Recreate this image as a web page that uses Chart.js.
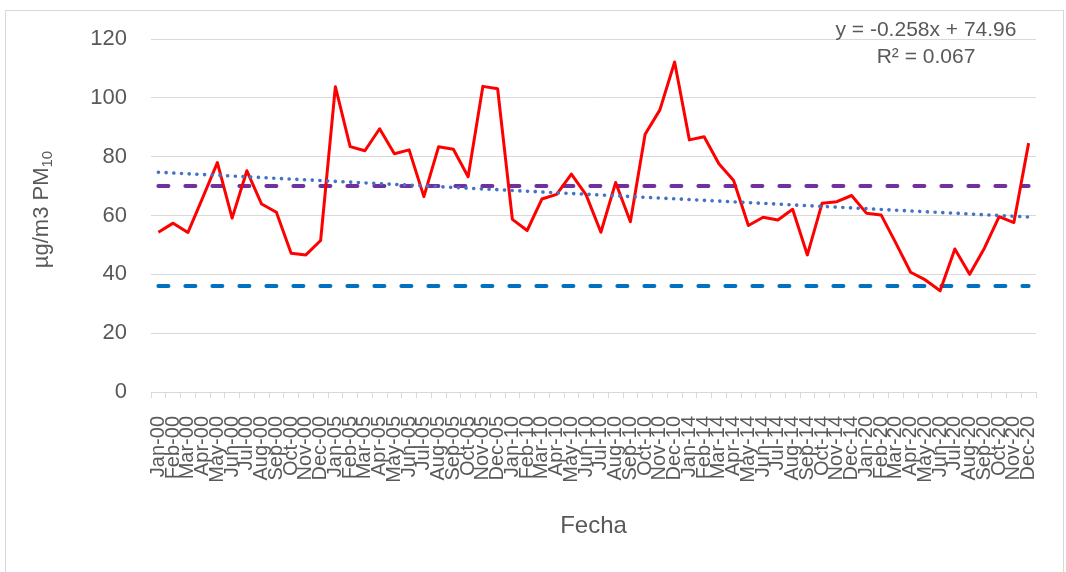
<!DOCTYPE html>
<html><head><meta charset="utf-8">
<script src="https://cdn.jsdelivr.net/npm/chart.js@4.4.0/dist/chart.umd.min.js"></script>
<style>html,body{margin:0;padding:0;background:#fff;}#wrap{width:1066px;height:572px;position:relative;}</style>
</head><body><div id="wrap"><canvas id="c"></canvas></div>
<script>
// ---- data ----
const years = ['00', '05', '10', '14', '20'];
const months = ['Jan', 'Feb', 'Mar', 'Apr', 'May', 'Jun', 'Jul', 'Aug', 'Sep', 'Oct', 'Nov', 'Dec'];
const categories = years.flatMap(y => months.map(m => m + '-' + y));

const pm10 = [
  54.3, 57.4, 54.2, 66.0, 78.0, 59.1, 75.2, 63.9, 61.1, 47.2, 46.6, 51.5,
  103.8, 83.4, 82.0, 89.5, 81.0, 82.3, 66.4, 83.4, 82.5, 73.2, 103.9, 103.1,
  58.7, 54.9, 65.6, 67.2, 74.1, 67.0, 54.3, 71.2, 57.9, 87.6, 95.9, 112.2,
  85.7, 86.8, 77.6, 71.9, 56.6, 59.4, 58.5, 62.1, 46.6, 64.2, 64.7, 66.8,
  60.8, 60.2, 50.6, 40.7, 38.1, 34.4, 48.6, 40.0, 48.9, 59.6, 57.6, 84.6
];
const limitHigh = 70;
const limitLow = 36;
const trendSlope = -0.258;
const trendIntercept = 74.96;
const trendR2 = 0.067;
const yTicks = [0, 20, 40, 60, 80, 100, 120];

// ---- derived ----
const highLine = categories.map(() => limitHigh);
const lowLine = categories.map(() => limitLow);
const trendLine = categories.map((_, i) => trendIntercept + trendSlope * (i + 1));

const FONT = "'Liberation Sans', Arial, sans-serif";
const TXT = '#595959';
const GRID = '#D9D9D9';

const framePlugin = {
  id: 'frame',
  beforeDraw(chart) {
    const ctx = chart.ctx;
    ctx.save();
    ctx.fillStyle = '#fff';
    ctx.fillRect(0, 0, chart.width, chart.height);
    ctx.strokeStyle = GRID;
    ctx.lineWidth = 1;
    ctx.strokeRect(5.5, 10.5, chart.width - 8, chart.height + 20);
    ctx.restore();
  },
  afterDraw(chart) {
    const ctx = chart.ctx;
    const a = chart.chartArea;
    ctx.save();
    // y axis title with subscript
    const main = 'µg/m3 PM', sub = '10';
    ctx.font = '22px ' + FONT;
    const w1 = ctx.measureText(main).width;
    ctx.font = '15px ' + FONT;
    const w2 = ctx.measureText(sub).width;
    const total = w1 + w2;
    ctx.translate(42, (a.top + a.bottom) / 2 - 6);
    ctx.rotate(-Math.PI / 2);
    ctx.fillStyle = TXT;
    ctx.textBaseline = 'middle';
    ctx.textAlign = 'left';
    ctx.font = '22px ' + FONT;
    ctx.fillText(main, -total / 2, 0);
    ctx.font = '15px ' + FONT;
    ctx.fillText(sub, -total / 2 + w1, 6);
    ctx.restore();

    // trendline equation
    ctx.save();
    ctx.fillStyle = TXT;
    ctx.font = '21px ' + FONT;
    ctx.textAlign = 'center';
    ctx.textBaseline = 'middle';
    const cx = a.right - 110;
    ctx.fillText('y = ' + trendSlope.toFixed(3) + 'x + ' + trendIntercept.toFixed(2), cx, 30);
    ctx.fillText('R² = ' + trendR2.toFixed(3), cx, 57);
    ctx.restore();
  }
};

new Chart(document.getElementById('c'), {
  type: 'line',
  data: {
    labels: categories,
    datasets: [
      { label: 'Tendencia', data: trendLine, borderColor: '#4472C4', borderWidth: 3.6,
        borderDash: [0.1, 7.6], borderCapStyle: 'round', pointRadius: 0, order: 0, fill: false },
      { label: 'PM10', data: pm10, borderColor: '#FF0000', borderWidth: 3,
        pointRadius: 0, tension: 0, order: 1, fill: false, borderJoinStyle: 'round' },
      { label: 'Límite 70', data: highLine, borderColor: '#7030A0', borderWidth: 4,
        borderDash: [10, 17], borderCapStyle: 'round', pointRadius: 0, order: 2, fill: false },
      { label: 'Límite 36', data: lowLine, borderColor: '#0070C0', borderWidth: 4,
        borderDash: [10, 17], borderCapStyle: 'round', pointRadius: 0, order: 3, fill: false }
    ]
  },
  options: {
    responsive: true,
    maintainAspectRatio: false,
    animation: false,
    layout: { padding: { left: 0, right: 30, top: 39, bottom: 0 } },
    plugins: { legend: { display: false }, tooltip: { enabled: false } },
    scales: {
      x: {
        type: 'category',
        offset: true,
        grid: { offset: true, drawOnChartArea: false, drawTicks: true, tickLength: 6, color: GRID },
        border: { display: true, color: GRID, width: 1 },
        ticks: { autoSkip: false, maxRotation: 90, minRotation: 90, padding: 18,
                 color: TXT, font: { family: FONT, size: 20 } },
        title: { display: true, text: 'Fecha', color: TXT, font: { family: FONT, size: 24 },
                 padding: { top: 4, bottom: 31 } },
        afterFit(s) { s.height = 180; s.paddingLeft = 0; s.paddingRight = 0; }
      },
      y: {
        min: yTicks[0],
        max: yTicks[yTicks.length - 1],
        afterBuildTicks(s) { s.ticks = yTicks.map(v => ({ value: v })); },
        grid: { color: GRID, drawTicks: false, lineWidth: 1 },
        border: { display: false },
        ticks: { padding: 24, color: TXT, font: { family: FONT, size: 22 } },
        afterFit(s) { s.width = 151; s.paddingTop = 0; s.paddingBottom = 0; }
      }
    }
  },
  plugins: [framePlugin]
});
</script>
</body></html>
